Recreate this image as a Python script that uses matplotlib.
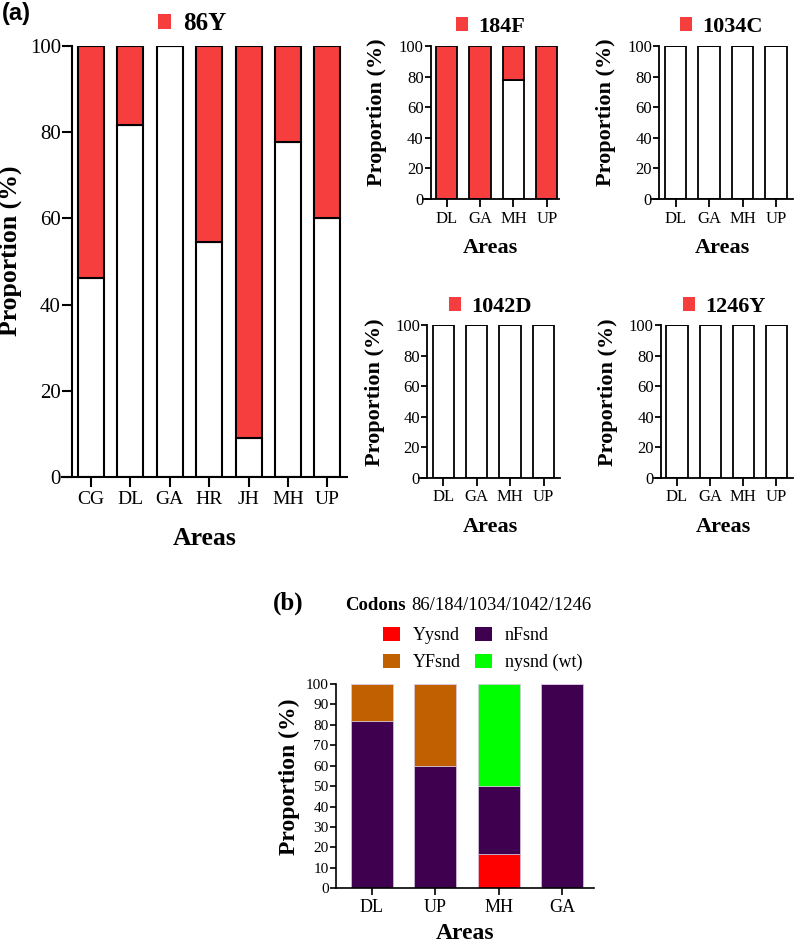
import matplotlib
matplotlib.use("Agg")
import matplotlib.pyplot as plt
from matplotlib.patches import Patch

plt.rcParams['font.family'] = ['Liberation Serif', 'DejaVu Serif']

# ---------------- data ----------------
areas_86 = ["CG", "DL", "GA", "HR", "JH", "MH", "UP"]
wt_86 = [46.2, 81.8, 100.0, 54.5, 9.1, 77.8, 60.0]
mut_86 = [53.8, 18.2, 0.0, 45.5, 90.9, 22.2, 40.0]

areas_small = ["DL", "GA", "MH", "UP"]
wt_184 = [0.0, 0.0, 77.8, 0.0]
mut_184 = [100.0, 100.0, 22.2, 100.0]
wt_1034 = [100.0, 100.0, 100.0, 100.0]
mut_1034 = [0.0, 0.0, 0.0, 0.0]
wt_1042 = [100.0, 100.0, 100.0, 100.0]
mut_1042 = [0.0, 0.0, 0.0, 0.0]
wt_1246 = [100.0, 100.0, 100.0, 100.0]
mut_1246 = [0.0, 0.0, 0.0, 0.0]

areas_b = ["DL", "UP", "MH", "GA"]
Yysnd = [0.0, 0.0, 16.7, 0.0]
nFsnd = [81.8, 60.0, 33.3, 100.0]
YFsnd = [18.2, 40.0, 0.0, 0.0]
nysnd = [0.0, 0.0, 50.0, 0.0]
hap_labels = ["Yysnd", "YFsnd", "nFsnd", "nysnd (wt)"]

RED = "#F73E3E"
C_Yy = "#FF0000"
C_YF = "#C06000"
C_nF = "#400050"
C_ny = "#00FF00"

fig = plt.figure(figsize=(7.96, 9.44), dpi=100)


def style_axes(ax, spine_x, xlim, xtick_fs, ytick_fs, lw, tlen_y, tlen_x):
    ax.set_xlim(*xlim)
    ax.set_ylim(0, 100)
    ax.spines['top'].set_visible(False)
    ax.spines['right'].set_visible(False)
    ax.spines['left'].set_position(('data', spine_x))
    ax.spines['left'].set_linewidth(lw)
    ax.spines['bottom'].set_linewidth(lw)
    ax.tick_params(axis='y', direction='out', length=tlen_y, width=lw, labelsize=ytick_fs, pad=1)
    ax.tick_params(axis='x', direction='out', length=tlen_x, width=lw, labelsize=xtick_fs, pad=3)


def gene_panel(rect, areas, wt, mut, title, title_xy, spine_x, xlim, xtick_fs, ytick_fs,
               lab_fs, title_fs, ylab_xy, xlab_y, lw, tlen_y, tlen_x, width):
    ax = fig.add_axes(rect)
    x = list(range(len(areas)))
    ax.bar(x, wt, width=width, color="white", edgecolor="black", linewidth=lw)
    ax.bar(x, mut, width=width, bottom=wt, color=RED, edgecolor="black", linewidth=lw)
    style_axes(ax, spine_x, xlim, xtick_fs, ytick_fs, lw, tlen_y, tlen_x)
    ax.set_xticks(x)
    ax.set_xticklabels(areas)
    ax.set_yticks([0, 20, 40, 60, 80, 100])
    ax.set_ylabel("Proportion (%)", fontsize=lab_fs, fontweight='bold')
    ax.set_xlabel("Areas", fontsize=lab_fs, fontweight='bold')
    ax.yaxis.set_label_coords(*ylab_xy)
    ax.xaxis.set_label_coords(0.5, xlab_y)
    fig.legend(handles=[Patch(facecolor=RED, edgecolor='none')], labels=[title],
               loc='center', bbox_to_anchor=title_xy, frameon=False,
               handlelength=0.55, handleheight=0.55, handletextpad=0.45,
               prop={'weight': 'bold', 'size': title_fs})
    return ax


# main 86Y panel
gene_panel([0.0775, 0.495, 0.3585, 0.456], areas_86, wt_86, mut_86, "86Y",
           (0.241, 0.9746), -0.48, (-0.744, 6.5), 14, 15, 18.5, 18, (-0.139, 0.525), -0.117,
           1.5, 7, 7, 0.66)

# small panels
gene_panel([0.531, 0.7895, 0.171, 0.1615], areas_small, wt_184, mut_184, "184F",
           (0.616, 0.9714), -0.48, (-0.72, 3.36), 12, 12, 16, 16, (-0.26, 0.565), -0.26,
           1.3, 4, 5.5, 0.64)
gene_panel([0.818, 0.7895, 0.178, 0.1615], areas_small, wt_1034, mut_1034, "1034C",
           (0.906, 0.9714), -0.5, (-0.73, 3.5), 12, 12, 16, 16, (-0.25, 0.565), -0.26,
           1.3, 4, 5.5, 0.64)
gene_panel([0.527, 0.494, 0.177, 0.1614], areas_small, wt_1042, mut_1042, "1042D",
           (0.6156, 0.675), -0.49, (-0.71, 3.5), 12, 12, 16, 16, (-0.245, 0.562), -0.26,
           1.3, 4, 5.5, 0.64)
gene_panel([0.821, 0.494, 0.175, 0.1614], areas_small, wt_1246, mut_1246, "1246Y",
           (0.91, 0.675), -0.49, (-0.71, 3.5), 12, 12, 16, 16, (-0.255, 0.562), -0.26,
           1.3, 4, 5.5, 0.64)

# panel (b)
axb = fig.add_axes([0.4217, 0.059, 0.3243, 0.2164])
xb = list(range(len(areas_b)))
wb = 0.66
ec = '#d8c8e0'
axb.bar(xb, Yysnd, width=wb, color=C_Yy, edgecolor=ec, linewidth=0.5)
bot = list(Yysnd)
axb.bar(xb, nFsnd, width=wb, bottom=bot, color=C_nF, edgecolor=ec, linewidth=0.5)
bot = [a + b for a, b in zip(bot, nFsnd)]
axb.bar(xb, YFsnd, width=wb, bottom=bot, color=C_YF, edgecolor=ec, linewidth=0.5)
bot = [a + b for a, b in zip(bot, YFsnd)]
axb.bar(xb, nysnd, width=wb, bottom=bot, color=C_ny, edgecolor=ec, linewidth=0.5)
style_axes(axb, -0.57, (-0.57, 3.5), 13, 11, 1.2, 4, 5)
axb.set_xticks(xb)
axb.set_xticklabels(areas_b)
axb.set_yticks(range(0, 101, 10))
axb.set_ylabel("Proportion (%)", fontsize=17, fontweight='bold')
axb.set_xlabel("Areas", fontsize=17, fontweight='bold')
axb.yaxis.set_label_coords(-0.14, 0.546)
axb.xaxis.set_label_coords(0.5, -0.172)

fig.legend(handles=[Patch(facecolor=C_Yy), Patch(facecolor=C_YF),
                    Patch(facecolor=C_nF), Patch(facecolor=C_ny)],
           labels=hap_labels, ncol=2, loc='center', bbox_to_anchor=(0.606, 0.3125),
           frameon=False, fontsize=13, handlelength=0.95, handleheight=0.8,
           handletextpad=0.7, columnspacing=0.8, labelspacing=0.55)

fig.text(0.433, 0.359, "Codons", fontsize=13.5, fontweight='bold', ha='left', va='center')
fig.text(0.517, 0.359, "86/184/1034/1042/1246", fontsize=13.5, ha='left', va='center')
fig.text(0.343, 0.361, "(b)", fontsize=18, fontweight='bold', ha='left', va='center')
fig.text(0.002, 0.986, "(a)", fontsize=17, fontweight='bold', ha='left', va='center',
         family=['Liberation Sans', 'DejaVu Sans'])

fig.savefig("out.png", dpi=100)
